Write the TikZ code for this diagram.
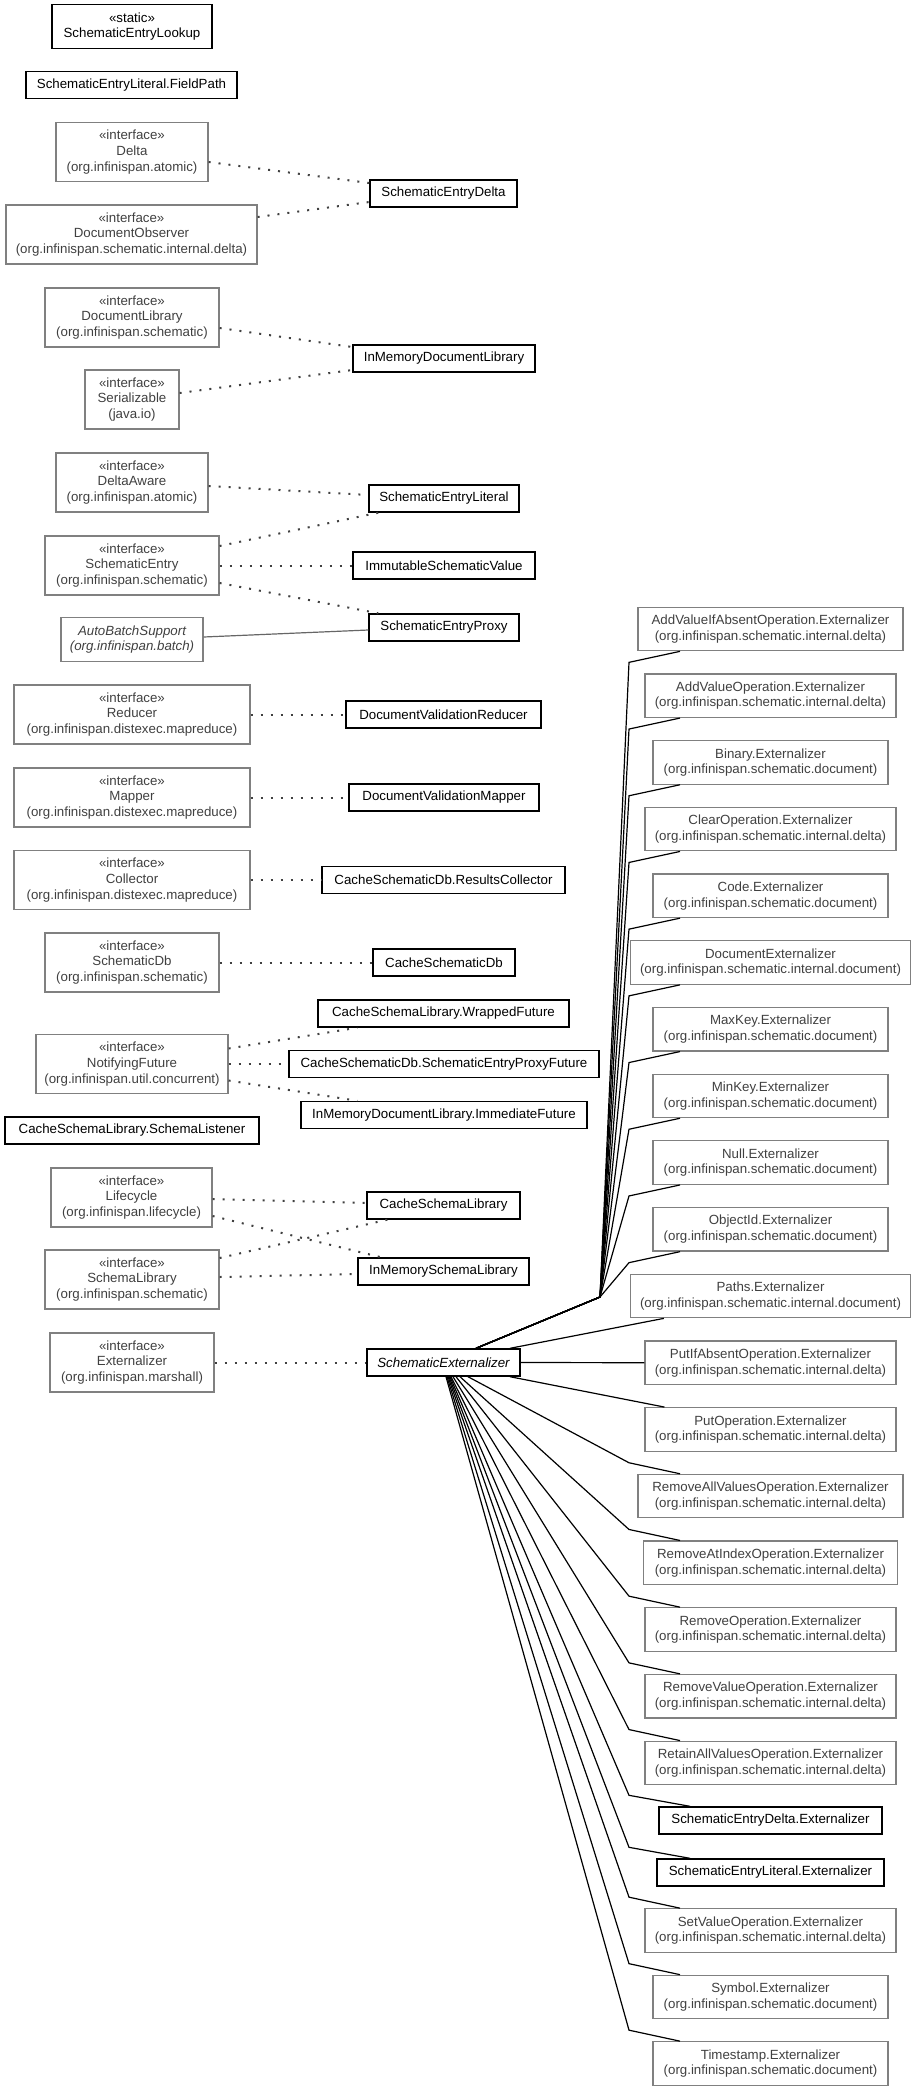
\documentclass[tikz,border=0pt]{standalone}
\usepackage{fontspec}
\setmainfont{Liberation Sans}
\usetikzlibrary{calc}
\begin{document}
\begin{tikzpicture}[x=1pt,y=-1pt,
  box/.style={draw, rectangle, inner sep=0pt, align=center, font=\fontsize{13.3}{15.7}\selectfont},
  gbox/.style={box, draw=black!50, text=black!75, line width=1.2pt},
  kbox/.style={box, draw=black, text=black, line width=1.4pt},
  one/.style={minimum height=27pt},
  two/.style={minimum height=43.5pt},
  three/.style={minimum height=59pt},
  real/.style={draw=black!75, line width=2pt, dash pattern=on 2pt off 8pt},
  inh/.style={draw=black, line width=1.2pt},
  ginh/.style={draw=black!60, line width=1.2pt},
]
\useasboundingbox (0,0) rectangle (917,2091);

% ---------- left / middle columns ----------
\node[kbox, two, minimum width=160pt] (lookup) at (132,26.5) {«static»\\SchematicEntryLookup};
\node[kbox, one, minimum width=211pt] (fieldpath) at (131.5,85) {SchematicEntryLiteral.FieldPath};
\node[gbox, three, minimum width=152pt] (delta) at (132,152) {«interface»\\Delta\\(org.infinispan.atomic)};
\node[gbox, three, minimum width=251pt] (docobs) at (131.5,234.5) {«interface»\\DocumentObserver\\(org.infinispan.schematic.internal.delta)};
\node[kbox, one, minimum width=147pt] (sed) at (443.5,193.5) {SchematicEntryDelta};
\node[gbox, three, minimum width=174pt] (doclib) at (132,317.5) {«interface»\\DocumentLibrary\\(org.infinispan.schematic)};
\node[gbox, three, minimum width=94pt] (serial) at (132,399.5) {«interface»\\Serializable\\(java.io)};
\node[kbox, one, minimum width=182pt] (imdl) at (444,358.5) {InMemoryDocumentLibrary};
\node[gbox, three, minimum width=152pt] (deltaaware) at (132,482.5) {«interface»\\DeltaAware\\(org.infinispan.atomic)};
\node[kbox, one, minimum width=150pt] (sel) at (444,498.5) {SchematicEntryLiteral};
\node[gbox, three, minimum width=174pt] (sentry) at (132,565.5) {«interface»\\SchematicEntry\\(org.infinispan.schematic)};
\node[kbox, one, minimum width=182pt] (isv) at (444,565.5) {ImmutableSchematicValue};
\node[kbox, one, minimum width=150pt] (sep) at (444,627.5) {SchematicEntryProxy};
\node[gbox, two, minimum width=142pt, font=\fontsize{13.3}{15.7}\selectfont\itshape] (autobatch) at (132,639.5) {AutoBatchSupport\\(org.infinispan.batch)};
\node[gbox, three, minimum width=236pt] (reducer) at (132,714.5) {«interface»\\Reducer\\(org.infinispan.distexec.mapreduce)};
\node[kbox, one, minimum width=195pt] (dvr) at (443.5,714.5) {DocumentValidationReducer};
\node[gbox, three, minimum width=236pt] (mapper) at (132,797.5) {«interface»\\Mapper\\(org.infinispan.distexec.mapreduce)};
\node[kbox, one, minimum width=190pt] (dvm) at (444,797.5) {DocumentValidationMapper};
\node[gbox, three, minimum width=236pt] (collector) at (132,880) {«interface»\\Collector\\(org.infinispan.distexec.mapreduce)};
\node[kbox, one, minimum width=243pt] (rc) at (443.5,880) {CacheSchematicDb.ResultsCollector};
\node[gbox, three, minimum width=174pt] (schemdb) at (132,962.5) {«interface»\\SchematicDb\\(org.infinispan.schematic)};
\node[kbox, one, minimum width=142pt] (csdb) at (444,962.5) {CacheSchematicDb};
\node[kbox, one, minimum width=251pt] (wf) at (443.5,1013.5) {CacheSchemaLibrary.WrappedFuture};
\node[gbox, three, minimum width=192pt] (nf) at (132,1064) {«interface»\\NotifyingFuture\\(org.infinispan.util.concurrent)};
\node[kbox, one, minimum width=310pt] (sepf) at (444,1064) {CacheSchematicDb.SchematicEntryProxyFuture};
\node[kbox, one, minimum width=286pt] (imf) at (444,1115) {InMemoryDocumentLibrary.ImmediateFuture};
\node[kbox, one, minimum width=254pt] (sl) at (132,1130.5) {CacheSchemaLibrary.SchemaListener};
\node[gbox, three, minimum width=161pt] (lifecycle) at (131.5,1197.5) {«interface»\\Lifecycle\\(org.infinispan.lifecycle)};
\node[kbox, one, minimum width=153pt] (csl) at (443.5,1205.5) {CacheSchemaLibrary};
\node[gbox, three, minimum width=174pt] (schemalib) at (132,1279.5) {«interface»\\SchemaLibrary\\(org.infinispan.schematic)};
\node[kbox, one, minimum width=171pt] (imsl) at (443.5,1271.5) {InMemorySchemaLibrary};
\node[gbox, three, minimum width=164pt] (extz) at (132,1362.5) {«interface»\\Externalizer\\(org.infinispan.marshall)};
\node[kbox, one, minimum width=153pt, font=\fontsize{13.3}{15.7}\selectfont\itshape] (se) at (443.5,1362.5) {SchematicExternalizer};

% ---------- right column ----------
\node[gbox, two, minimum width=265pt] (r1) at (770.5,629) {AddValueIfAbsentOperation.Externalizer\\(org.infinispan.schematic.internal.delta)};
\node[gbox, two, minimum width=251pt] (r2) at (770.5,695.7) {AddValueOperation.Externalizer\\(org.infinispan.schematic.internal.delta)};
\node[gbox, two, minimum width=235pt] (r3) at (770.5,762.4) {Binary.Externalizer\\(org.infinispan.schematic.document)};
\node[gbox, two, minimum width=251pt] (r4) at (770.5,829.1) {ClearOperation.Externalizer\\(org.infinispan.schematic.internal.delta)};
\node[gbox, two, minimum width=235pt] (r5) at (770.5,895.8) {Code.Externalizer\\(org.infinispan.schematic.document)};
\node[gbox, two, minimum width=280pt] (r6) at (770.5,962.5) {DocumentExternalizer\\(org.infinispan.schematic.internal.document)};
\node[gbox, two, minimum width=235pt] (r7) at (770.5,1029.2) {MaxKey.Externalizer\\(org.infinispan.schematic.document)};
\node[gbox, two, minimum width=235pt] (r8) at (770.5,1095.9) {MinKey.Externalizer\\(org.infinispan.schematic.document)};
\node[gbox, two, minimum width=235pt] (r9) at (770.5,1162.6) {Null.Externalizer\\(org.infinispan.schematic.document)};
\node[gbox, two, minimum width=235pt] (r10) at (770.5,1229.3) {ObjectId.Externalizer\\(org.infinispan.schematic.document)};
\node[gbox, two, minimum width=280pt] (r11) at (770.5,1296) {Paths.Externalizer\\(org.infinispan.schematic.internal.document)};
\node[gbox, two, minimum width=251pt] (r12) at (770.5,1362.7) {PutIfAbsentOperation.Externalizer\\(org.infinispan.schematic.internal.delta)};
\node[gbox, two, minimum width=251pt] (r13) at (770.5,1429.4) {PutOperation.Externalizer\\(org.infinispan.schematic.internal.delta)};
\node[gbox, two, minimum width=265pt] (r14) at (770.5,1496.1) {RemoveAllValuesOperation.Externalizer\\(org.infinispan.schematic.internal.delta)};
\node[gbox, two, minimum width=254pt] (r15) at (770.5,1562.8) {RemoveAtIndexOperation.Externalizer\\(org.infinispan.schematic.internal.delta)};
\node[gbox, two, minimum width=251pt] (r16) at (770.5,1629.5) {RemoveOperation.Externalizer\\(org.infinispan.schematic.internal.delta)};
\node[gbox, two, minimum width=251pt] (r17) at (770.5,1696.2) {RemoveValueOperation.Externalizer\\(org.infinispan.schematic.internal.delta)};
\node[gbox, two, minimum width=251pt] (r18) at (770.5,1762.9) {RetainAllValuesOperation.Externalizer\\(org.infinispan.schematic.internal.delta)};
\node[kbox, one, minimum width=223pt] (r19) at (770.5,1820.5) {SchematicEntryDelta.Externalizer};
\node[kbox, one, minimum width=227pt] (r20) at (770.5,1872.5) {SchematicEntryLiteral.Externalizer};
\node[gbox, two, minimum width=251pt] (r21) at (770.5,1930.5) {SetValueOperation.Externalizer\\(org.infinispan.schematic.internal.delta)};
\node[gbox, two, minimum width=235pt] (r22) at (770.5,1997) {Symbol.Externalizer\\(org.infinispan.schematic.document)};
\node[gbox, two, minimum width=235pt] (r23) at (770.5,2063.5) {Timestamp.Externalizer\\(org.infinispan.schematic.document)};

% ---------- realization (dotted) ----------
\draw[real] ([yshift=-10pt]delta.east) -- ([yshift=10.5pt]sed.west);
\draw[real] ([yshift=17.5pt]docobs.east) -- ([yshift=-8.5pt]sed.west);
\draw[real] ([yshift=-10.5pt]doclib.east) -- ([yshift=11.5pt]imdl.west);
\draw[real] ([yshift=6.5pt]serial.east) -- ([yshift=-11.5pt]imdl.west);
\draw[real] ([yshift=-3.5pt]deltaaware.east) -- ([yshift=3.5pt]sel.west);
\draw[real] ([yshift=19.5pt]sentry.east) -- ([xshift=10pt]sel.south west);
\draw[real] ([yshift=-0.5pt]sentry.east) -- ([yshift=-0.5pt]isv.west);
\draw[real] ([yshift=-17.5pt]sentry.east) -- ([xshift=10pt]sep.north west);
\draw[real] ([yshift=-0.5pt]reducer.east) -- ([yshift=-0.5pt]dvr.west);
\draw[real] ([yshift=-0.5pt]mapper.east) -- ([yshift=-0.5pt]dvm.west);
\draw[real] (collector.east) -- (rc.west);
\draw[real] ([yshift=-0.5pt]schemdb.east) -- ([yshift=-0.5pt]csdb.west);
\draw[real] ([yshift=15.5pt]nf.east) -- ([xshift=40pt]wf.south west);
\draw[real] (nf.east) -- (sepf.west);
\draw[real] ([yshift=-16.5pt]nf.east) -- ([xshift=57pt]imf.north west);
\draw[real] ([yshift=-1.5pt]lifecycle.east) -- ([yshift=2.5pt]csl.west);
\draw[real] ([yshift=-18.5pt]lifecycle.east) -- ([xshift=24pt]imsl.north west);
\draw[real] ([yshift=21.5pt]schemalib.east) -- ([xshift=21pt]csl.south west);
\draw[real] ([yshift=2.5pt]schemalib.east) -- ([yshift=-2.5pt]imsl.west);
\draw[real] ([yshift=-0.5pt]extz.east) -- ([yshift=-0.5pt]se.west);

% ---------- generalization (solid) ----------
\draw[ginh] ([yshift=2.5pt]autobatch.east) -- ([yshift=-2.5pt]sep.west);

\coordinate (hub) at (600,1297);
\coordinate (fan) at (629,0);
\coordinate (bx) at (680,0);
\coordinate (bxk) at (690,0);

\foreach \i in {1,...,10}
  \draw[inh] ([xshift=32.5pt]se.north) -- (hub) -- ($(r\i.south -| fan)+(0,11)$) -- (r\i.south -| bx);
\draw[inh] ([xshift=66.5pt]se.north) -- ([xshift=34pt]r11.south west);
\draw[inh] (se.east) -- (r12.west);
\draw[inh] ([xshift=66.5pt]se.south) -- ([xshift=20pt]r13.north west);
\foreach \i/\s/\e in {14/24.5/bx, 15/16.5/bx, 16/12.5/bx, 17/9.5/bx, 18/7.5/bx, 19/6.5/bxk, 20/5.5/bxk, 21/4.5/bx, 22/3.5/bx, 23/2.5/bx}
  \draw[inh] ([xshift=\s pt]se.south) -- ($(r\i.north -| fan)+(0,-11)$) -- (r\i.north -| \e);
\end{tikzpicture}
\end{document}
